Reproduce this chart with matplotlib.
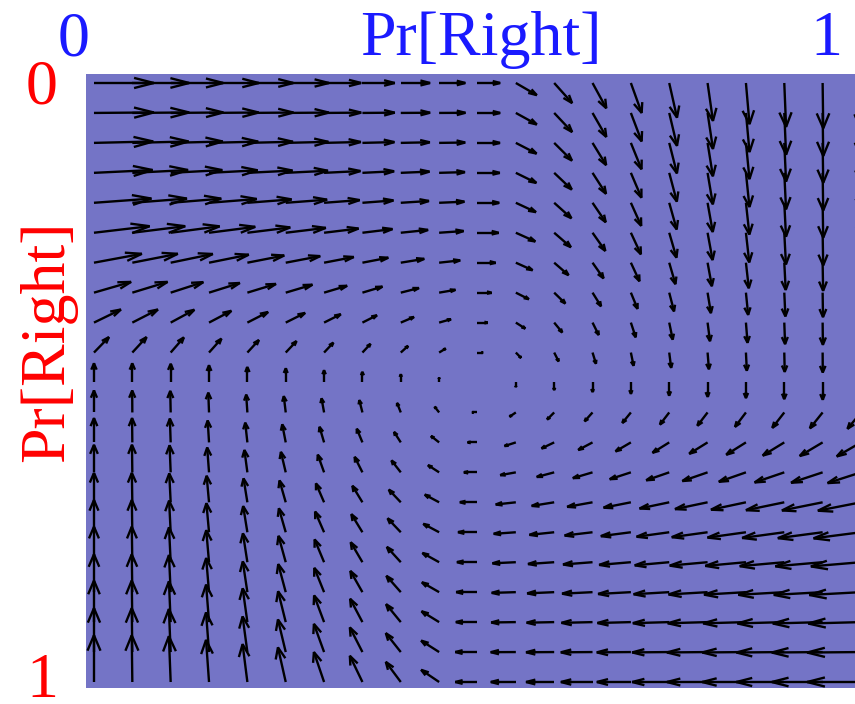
import numpy as np
import matplotlib
matplotlib.use("Agg")
import matplotlib.pyplot as plt
from matplotlib.collections import LineCollection

# strategy grid: Pr[Right] for both players, 0..1 in steps of 0.05
steps = np.linspace(0, 1, 21)

# push on the column player's Pr[Right], one value per row (row player's Pr[Right])
push_x = [1.0, 1.0, 0.99, 0.98, 0.96, 0.93, 0.8, 0.62, 0.45, 0.25, 0.0,
          -0.25, -0.45, -0.62, -0.8, -0.88, -0.93, -0.96, -0.98, -1.0, -1.0]
# push on the row player's Pr[Right], one value per column
push_y = [-1.0, -1.0, -0.98, -0.9, -0.81, -0.74, -0.64, -0.56, -0.43, -0.26, 0.0,
          0.26, 0.43, 0.54, 0.64, 0.74, 0.81, 0.88, 0.94, 0.97, 1.0]

# step size for a push to the right / left, per column
gain_right = [1.0, 0.95, 0.88, 0.83, 0.77, 0.72, 0.62, 0.54, 0.49, 0.44, 0.38,
              0.35, 0.3, 0.23, 0.18, 0.13, 0.09, 0.06, 0.03, 0.01, 0.0]
gain_left = [0.0, 0.01, 0.03, 0.05, 0.08, 0.13, 0.17, 0.21, 0.25, 0.3, 0.37,
             0.42, 0.47, 0.53, 0.57, 0.62, 0.68, 0.73, 0.8, 0.85, 0.9]
# step size for a push down / up, per row
gain_down = [1.0, 0.95, 0.88, 0.83, 0.77, 0.72, 0.62, 0.54, 0.49, 0.44, 0.38,
             0.35, 0.3, 0.23, 0.18, 0.13, 0.09, 0.06, 0.03, 0.01, 0.0]
gain_up = [0.0, 0.01, 0.03, 0.06, 0.09, 0.14, 0.19, 0.23, 0.28, 0.33, 0.41,
           0.47, 0.52, 0.59, 0.63, 0.69, 0.76, 0.81, 0.89, 0.94, 1.0]

arrow_scale = 0.078
head_alpha = 0.33
head_beta = 0.33

bg = "#7474C6"
blue = "#1a1aff"
red = "#ff0000"
serif = ["Liberation Serif", "DejaVu Serif"]


def field():
    X, Y = np.meshgrid(steps, steps)
    px = np.array(push_x)[:, None]
    py = np.array(push_y)[None, :]
    U = np.where(px > 0, px * np.array(gain_right)[None, :], px * np.array(gain_left)[None, :])
    V = np.where(py > 0, py * np.array(gain_down)[:, None], py * np.array(gain_up)[:, None])
    return X.ravel(), Y.ravel(), U.ravel() * arrow_scale, V.ravel() * arrow_scale


def arrows(x, y, u, v):
    # shaft plus an open two-line head, like matlab's quiver
    a, b, eps = head_alpha, head_beta, 1e-9
    tx, ty = x + u, y + v
    tip = np.column_stack([tx, ty])
    shafts = np.stack([np.column_stack([x, y]), tip], axis=1)
    h1 = np.column_stack([tx - a * (u + b * (v + eps)), ty - a * (v - b * (u + eps))])
    h2 = np.column_stack([tx - a * (u - b * (v + eps)), ty - a * (v + b * (u + eps))])
    heads = np.stack([h1, tip, h2], axis=1)
    return shafts, heads


fig = plt.figure(figsize=(8.55, 7.04), dpi=100)
ax = fig.add_axes([86 / 855, 16 / 704, 769 / 855, 614 / 704])
ax.set_facecolor(bg)
ax.set_xlim(-0.0104, 0.9922)
ax.set_ylim(1.010, -0.015)
ax.set_xticks([])
ax.set_yticks([])
for s in ax.spines.values():
    s.set_visible(False)

shafts, heads = arrows(*field())
ax.add_collection(LineCollection(shafts, colors="black", linewidths=1.7, capstyle="butt"))
ax.add_collection(LineCollection(heads, colors="black", linewidths=1.7, capstyle="butt",
                                 joinstyle="miter"))


def ftext(x, y, s, color, **kw):
    fig.text(x / 855, 1 - y / 704, s, color=color, fontsize=46, family=serif, **kw)


# top axis: column player
ftext(74, 55, "0", blue, ha="center", va="baseline")
ftext(826, 55, "1", blue, ha="center", va="baseline")
ftext(481, 55, "Pr[Right]", blue, ha="center", va="baseline")
# left axis: row player
ftext(42, 103, "0", red, ha="center", va="baseline")
ftext(42, 697, "1", red, ha="center", va="baseline")
ftext(63, 341, "Pr[Right]", red, ha="center", va="baseline", rotation=90,
      rotation_mode="anchor")

fig.savefig("out.png", dpi=100)
